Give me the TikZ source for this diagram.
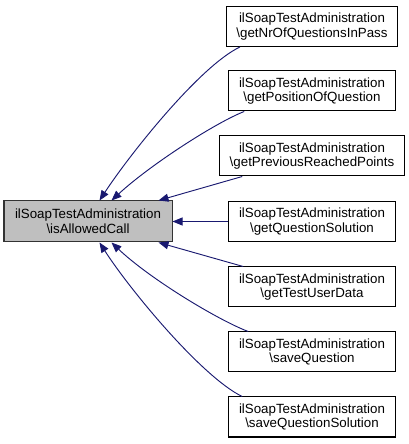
\documentclass[tikz,border=0pt]{standalone}
\usepackage{fontspec}
\setmainfont{Liberation Sans}
\usepackage{xcolor}
\usepackage{tikz}
\usetikzlibrary{arrows.meta, calc}
\definecolor{edgecolor}{RGB}{25,25,112}
\definecolor{maincolor}{RGB}{191,191,191}

\begin{document}
\begin{tikzpicture}[
    x=0.75pt, y=0.75pt,
    func/.style={draw=black, line width=0.75pt, fill=#1, minimum width=125pt, minimum height=30pt, inner xsep=7.5pt, inner ysep=2pt, font=\fontsize{10}{11}\selectfont, align=center},
    func/.default=white,
    call/.style={draw=edgecolor, line width=0.7pt, -{Triangle[length=7.5pt, width=6pt]}}
]
    \useasboundingbox (0,0) rectangle (409,444);

    % The called function
    \node[func=maincolor, minimum width=126pt, minimum height=30.75pt, draw=black!80] (allowed) at (88,222.5) {ilSoapTestAdministration\\\textbackslash isAllowedCall};

    % Callers in a column
    \node[func] (nrq) at (312,417.5) {ilSoapTestAdministration\\\textbackslash getNrOfQuestionsInPass};
    \node[func] (posq) at (312,353) {ilSoapTestAdministration\\\textbackslash getPositionOfQuestion};
    \node[func] (prevpts) at (312,288) {ilSoapTestAdministration\\\textbackslash getPreviousReachedPoints};
    \node[func] (qsol) at (312,222.5) {ilSoapTestAdministration\\\textbackslash getQuestionSolution};
    \node[func] (userdata) at (312,157) {ilSoapTestAdministration\\\textbackslash getTestUserData};
    \node[func] (saveq) at (312,92) {ilSoapTestAdministration\\\textbackslash saveQuestion};
    \node[func] (saveqsol) at (312,27) {ilSoapTestAdministration\\\textbackslash saveQuestionSolution};

    % Calls
    \draw[call] ($(nrq.south west)+(14,0)$) .. controls (200,378) and (130,290) .. ($(allowed.north west)+(96,0)$);
    \draw[call] ($(posq.south west)+(16,0)$) .. controls (215,321) and (150,279) .. ($(allowed.north west)+(108,0)$);
    \draw[call] ($(prevpts.south west)+(23,0)$) -- ($(allowed.north east)+(-14,0)$);
    \draw[call] (qsol.west) -- (allowed.east);
    \draw[call] ($(userdata.north west)+(15,0)$) -- ($(allowed.south east)+(-14,0)$);
    \draw[call] ($(saveq.north west)+(20,0)$) .. controls (218,124) and (150,165) .. ($(allowed.south west)+(108,0)$);
    \draw[call] ($(saveqsol.north west)+(14,0)$) .. controls (202,67) and (130,154) .. ($(allowed.south west)+(96,0)$);
\end{tikzpicture}
\end{document}
